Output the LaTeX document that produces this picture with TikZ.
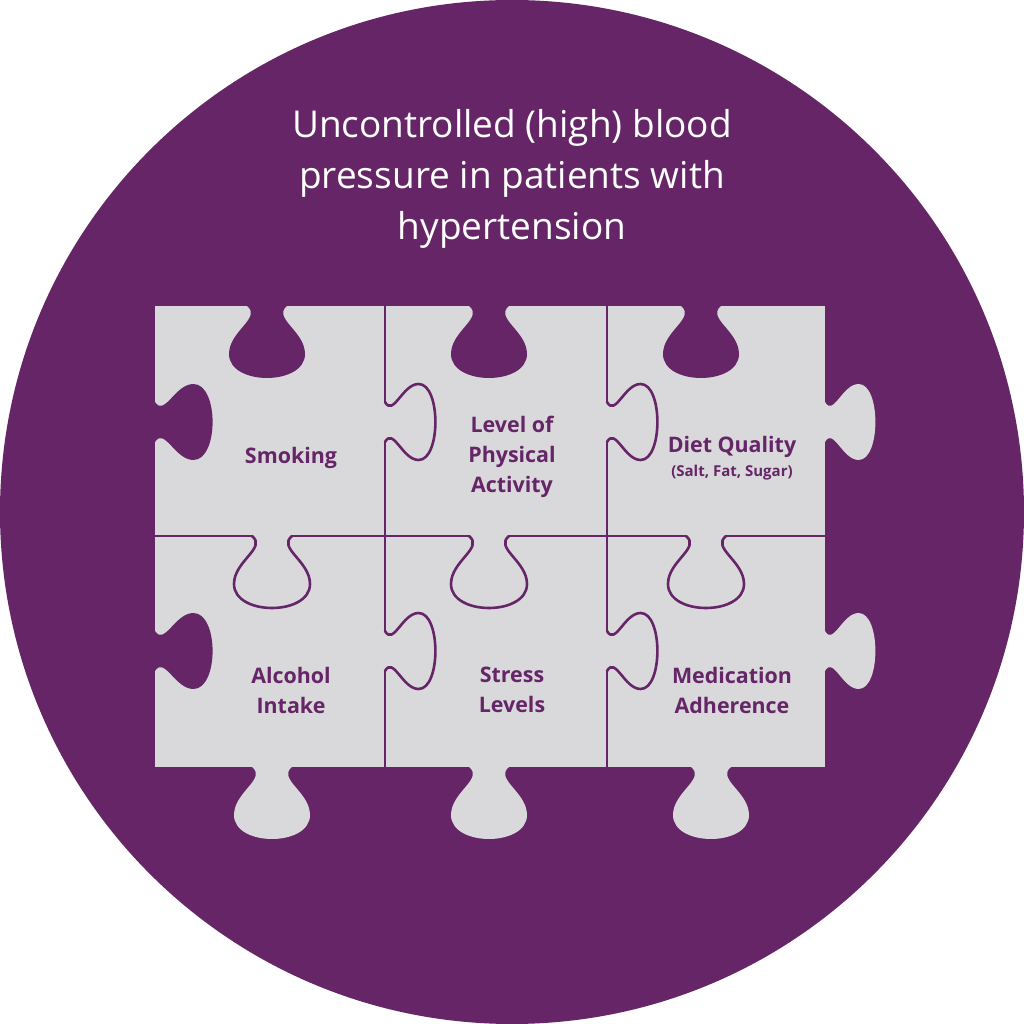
\documentclass[tikz,border=0pt]{standalone}
\usepackage{fontspec}
\setmainfont{Open Sans}
\definecolor{plum}{HTML}{652566}
\definecolor{piece}{HTML}{D9D9DC}
\newcommand{\tabshape}{(-20,0) .. controls (-5,12) and (-38,25) .. (-38,48) .. controls (-38,80) and (38,80) .. (38,48) .. controls (38,25) and (5,12) .. (20,0)}
\tikzset{
  seam/.style={draw=plum,line width=1.3pt,line cap=round,line join=round},
  lbl/.style={text=plum,font=\bfseries\fontsize{10.7}{15}\selectfont,align=center},
}
\begin{document}
\begin{tikzpicture}[x=0.5pt,y=0.5pt]
\useasboundingbox (0,0) rectangle (1024,1024);
\fill[white] (0,0) rectangle (1024,1024);
\fill[plum] (512,512) circle (512);
% body
\fill[piece] (155,257) rectangle (825,718);
% top holes
\foreach \x in {267,489,701}{\fill[plum,shift={(\x,718)},rotate=180] (-20,-3) -- \tabshape -- (20,-3) -- cycle;}
% left holes
\foreach \y in {602,373}{\fill[plum,shift={(155,\y)},rotate=-90,yscale=0.8] (-20,-3) -- \tabshape -- (20,-3) -- cycle;}
% right knobs
\foreach \y in {602,373}{\fill[piece,shift={(825,\y)},rotate=-90,yscale=0.7] (-20,-3) -- \tabshape -- (20,-3) -- cycle;}
% bottom knobs
\foreach \x in {272,489,711}{\fill[piece,shift={(\x,257)},rotate=180] (-20,-3) -- \tabshape -- (20,-3) -- cycle;}
% vertical seams
\foreach \X in {385,607}{
  \draw[seam] (\X,718) -- (\X,622);
  \draw[seam,shift={(\X,602)},rotate=-90,yscale=0.7] \tabshape;
  \draw[seam] (\X,582) -- (\X,393);
  \draw[seam,shift={(\X,373)},rotate=-90,yscale=0.7] \tabshape;
  \draw[seam] (\X,353) -- (\X,257);
}
% horizontal seam
\draw[seam] (155,488) -- (252,488);
\draw[seam,shift={(272,488)},rotate=180] \tabshape;
\draw[seam] (292,488) -- (469,488);
\draw[seam,shift={(489,488)},rotate=180] \tabshape;
\draw[seam] (509,488) -- (686,488);
\draw[seam,shift={(706,488)},rotate=180] \tabshape;
\draw[seam] (726,488) -- (825,488);
% title
\node[text=white,font=\fontsize{18.5}{25.5}\selectfont,align=center] (title) at (512,845)
  {Uncontrolled (high) blood\\pressure in patients with\\hypertension};
\node[lbl] (smoking) at (291,566) {Smoking};
\node[lbl] (phys) at (512,567) {Level of\\Physical\\Activity};
\node[lbl] (diet) at (732,577) {Diet Quality};
\node[text=plum,font=\bfseries\fontsize{7.5}{9}\selectfont] (dietsub) at (732,551) {(Salt, Fat, Sugar)};
\node[lbl] (alc) at (291,334) {Alcohol\\Intake};
\node[lbl] (stress) at (512,334) {Stress\\Levels};
\node[lbl] (med) at (732,334) {Medication\\Adherence};
\end{tikzpicture}
\end{document}
